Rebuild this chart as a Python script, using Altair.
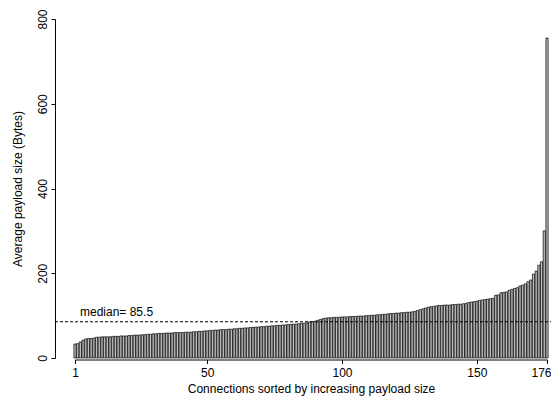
import altair as alt
import pandas as pd

# Average payload size per connection (sorted ascending)
payload = [
    33, 34, 38, 42, 45, 46, 46, 47, 49, 49,
    50, 50, 50, 50, 51, 51, 51, 52, 52, 52,
    53, 53, 54, 54, 54, 55, 55, 56, 56, 57,
    57, 58, 58, 58, 59, 59, 59, 60, 60, 60,
    60, 61, 61, 61, 62, 62, 63, 63, 64, 64,
    65, 65, 66, 66, 67, 67, 67, 68, 68, 69,
    69, 70, 70, 71, 71, 72, 72, 73, 73, 74,
    74, 75, 75, 76, 76, 77, 77, 78, 78, 79,
    79, 80, 80, 81, 82, 82, 83, 85, 86, 87,
    89, 91, 93, 94, 95, 95, 96, 96, 96, 97,
    97, 97, 98, 98, 98, 99, 99, 99, 100, 100,
    101, 101, 102, 102, 103, 103, 104, 105, 105, 106,
    106, 107, 107, 108, 108, 109, 110, 112, 114, 116,
    118, 120, 121, 122, 123, 124, 124, 125, 125, 125,
    126, 126, 127, 127, 128, 129, 131, 132, 133, 134,
    136, 137, 138, 139, 140, 141, 148, 149, 154, 155,
    156, 160, 162, 164, 166, 170, 172, 175, 180, 184,
    198, 205, 219, 227, 300, 755,
]
ranks = list(range(1, len(payload) + 1))
x_ticks = [1, 50, 100, 150, 176]
y_ticks = [0, 200, 400, 600, 800]
median_value = [85.5]
median_label = ["median= 85.5"]

df = pd.DataFrame({"rank": ranks, "payload": payload})
med = pd.DataFrame({"m": median_value, "label": median_label})

W, H = 472, 339
FONT = "Liberation Sans"

x_scale = alt.Scale(domain=[1, 176], nice=False, zero=False)
y_scale = alt.Scale(domain=[0, 800], nice=False, zero=True)

last_tick = x_ticks[-1]

x_axis = alt.Axis(
    values=x_ticks,
    format="d",
    title="Connections sorted by increasing payload size",
    offset=1.5,
    tickSize=4,
    labelPadding=4,
    labelAngle=0,
    labelAlign={"condition": {"test": f"datum.value === {last_tick}", "value": "right"}, "value": "center"},
    labelOffset={"condition": {"test": f"datum.value === {last_tick}", "value": 4}, "value": 0},
    labelOverlap=False,
    labelFlush=False,
    grid=False,
    domainColor="black",
    tickColor="black",
    labelColor="black",
    titleColor="black",
    labelFont=FONT,
    titleFont=FONT,
    labelFontSize=12,
    titleFontSize=12,
    titleFontWeight="normal",
    titleBaseline="alphabetic",
    titleY=32.5,
)

y_axis = alt.Axis(
    values=y_ticks,
    title="Average payload size (Bytes)",
    offset=20,
    tickSize=4,
    labelPadding=5,
    labelAngle=270,
    labelAlign="center",
    labelBaseline="alphabetic",
    labelOverlap=False,
    labelFlush=False,
    grid=False,
    domainColor="black",
    tickColor="black",
    labelColor="black",
    titleColor="black",
    labelFont=FONT,
    titleFont=FONT,
    labelFontSize=12,
    titleFontSize=12,
    titleFontWeight="normal",
    titleBaseline="alphabetic",
    titleX=-34,
)

bars = alt.Chart(df).transform_calculate(
    x0="datum.rank - 0.4167", x1="datum.rank + 0.4167"
).mark_rect(fill="#bebebe", stroke="black", strokeWidth=0.7).encode(
    x=alt.X("x0:Q", scale=x_scale, axis=x_axis),
    x2="x1:Q",
    y=alt.Y("payload:Q", scale=y_scale, axis=y_axis),
    y2=alt.datum(0),
)

rule = alt.Chart(med).mark_rule(
    color="black", strokeDash=[3, 2], strokeWidth=1
).encode(
    y=alt.Y("m:Q", scale=y_scale, axis=y_axis),
    x=alt.value(-20),
    x2=alt.value(W + 20),
)

label = alt.Chart(med).mark_text(
    align="left", baseline="alphabetic", dy=-5.5, font=FONT, fontSize=12, color="black"
).encode(
    y=alt.Y("m:Q", scale=y_scale, axis=y_axis),
    x=alt.value(5),
    text="label:N",
)

chart = alt.layer(bars, rule, label).properties(
    width=W,
    height=H,
    autosize=alt.AutoSizeParams(type="none"),
    padding={"left": 67, "top": 11, "right": 4, "bottom": 38},
    background="white",
).configure_view(stroke=None)

chart.save("out.html", embed_options={"renderer": "svg", "actions": False})
